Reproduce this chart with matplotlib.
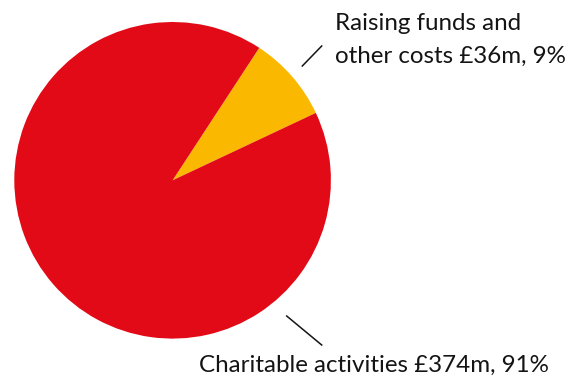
import matplotlib
matplotlib.use("Agg")
import matplotlib.pyplot as plt

# Expenditure split (GBP millions)
categories = ["Raising funds and\nother costs", "Charitable activities"]
values = [36, 374]
percents = [9, 91]
colors = ["#FBB800", "#E20A16"]

W, H = 582, 376
fig = plt.figure(figsize=(W / 100, H / 100), dpi=100)
ax = fig.add_axes([0, 0, 1, 1])

ax.pie(values, colors=colors, startangle=25.2, counterclock=True,
       center=(172.6, 195.7), radius=158.3, frame=True,
       wedgeprops=dict(linewidth=0))
ax.set_xlim(0, W)
ax.set_ylim(0, H)
ax.set_aspect("equal")
ax.axis("off")

font = dict(family=["Lato", "DejaVu Sans"], fontsize=17.4, color="#141414")

# Leader lines
ax.plot([302.3, 321.7], [310, 330], color="#141414", lw=1.1)
ax.plot([286.7, 321.7], [60, 31], color="#141414", lw=1.1)

top_lines = categories[0].split("\n")
ax.text(335, 346, top_lines[0], ha="left", va="baseline", **font)
ax.text(335, 313, f"{top_lines[1]} £{values[0]}m, {percents[0]}%",
        ha="left", va="baseline", **font)
ax.text(199, 4.5, f"{categories[1]} £{values[1]}m, {percents[1]}%",
        ha="left", va="baseline", **font)

fig.savefig("out.png", dpi=100)
